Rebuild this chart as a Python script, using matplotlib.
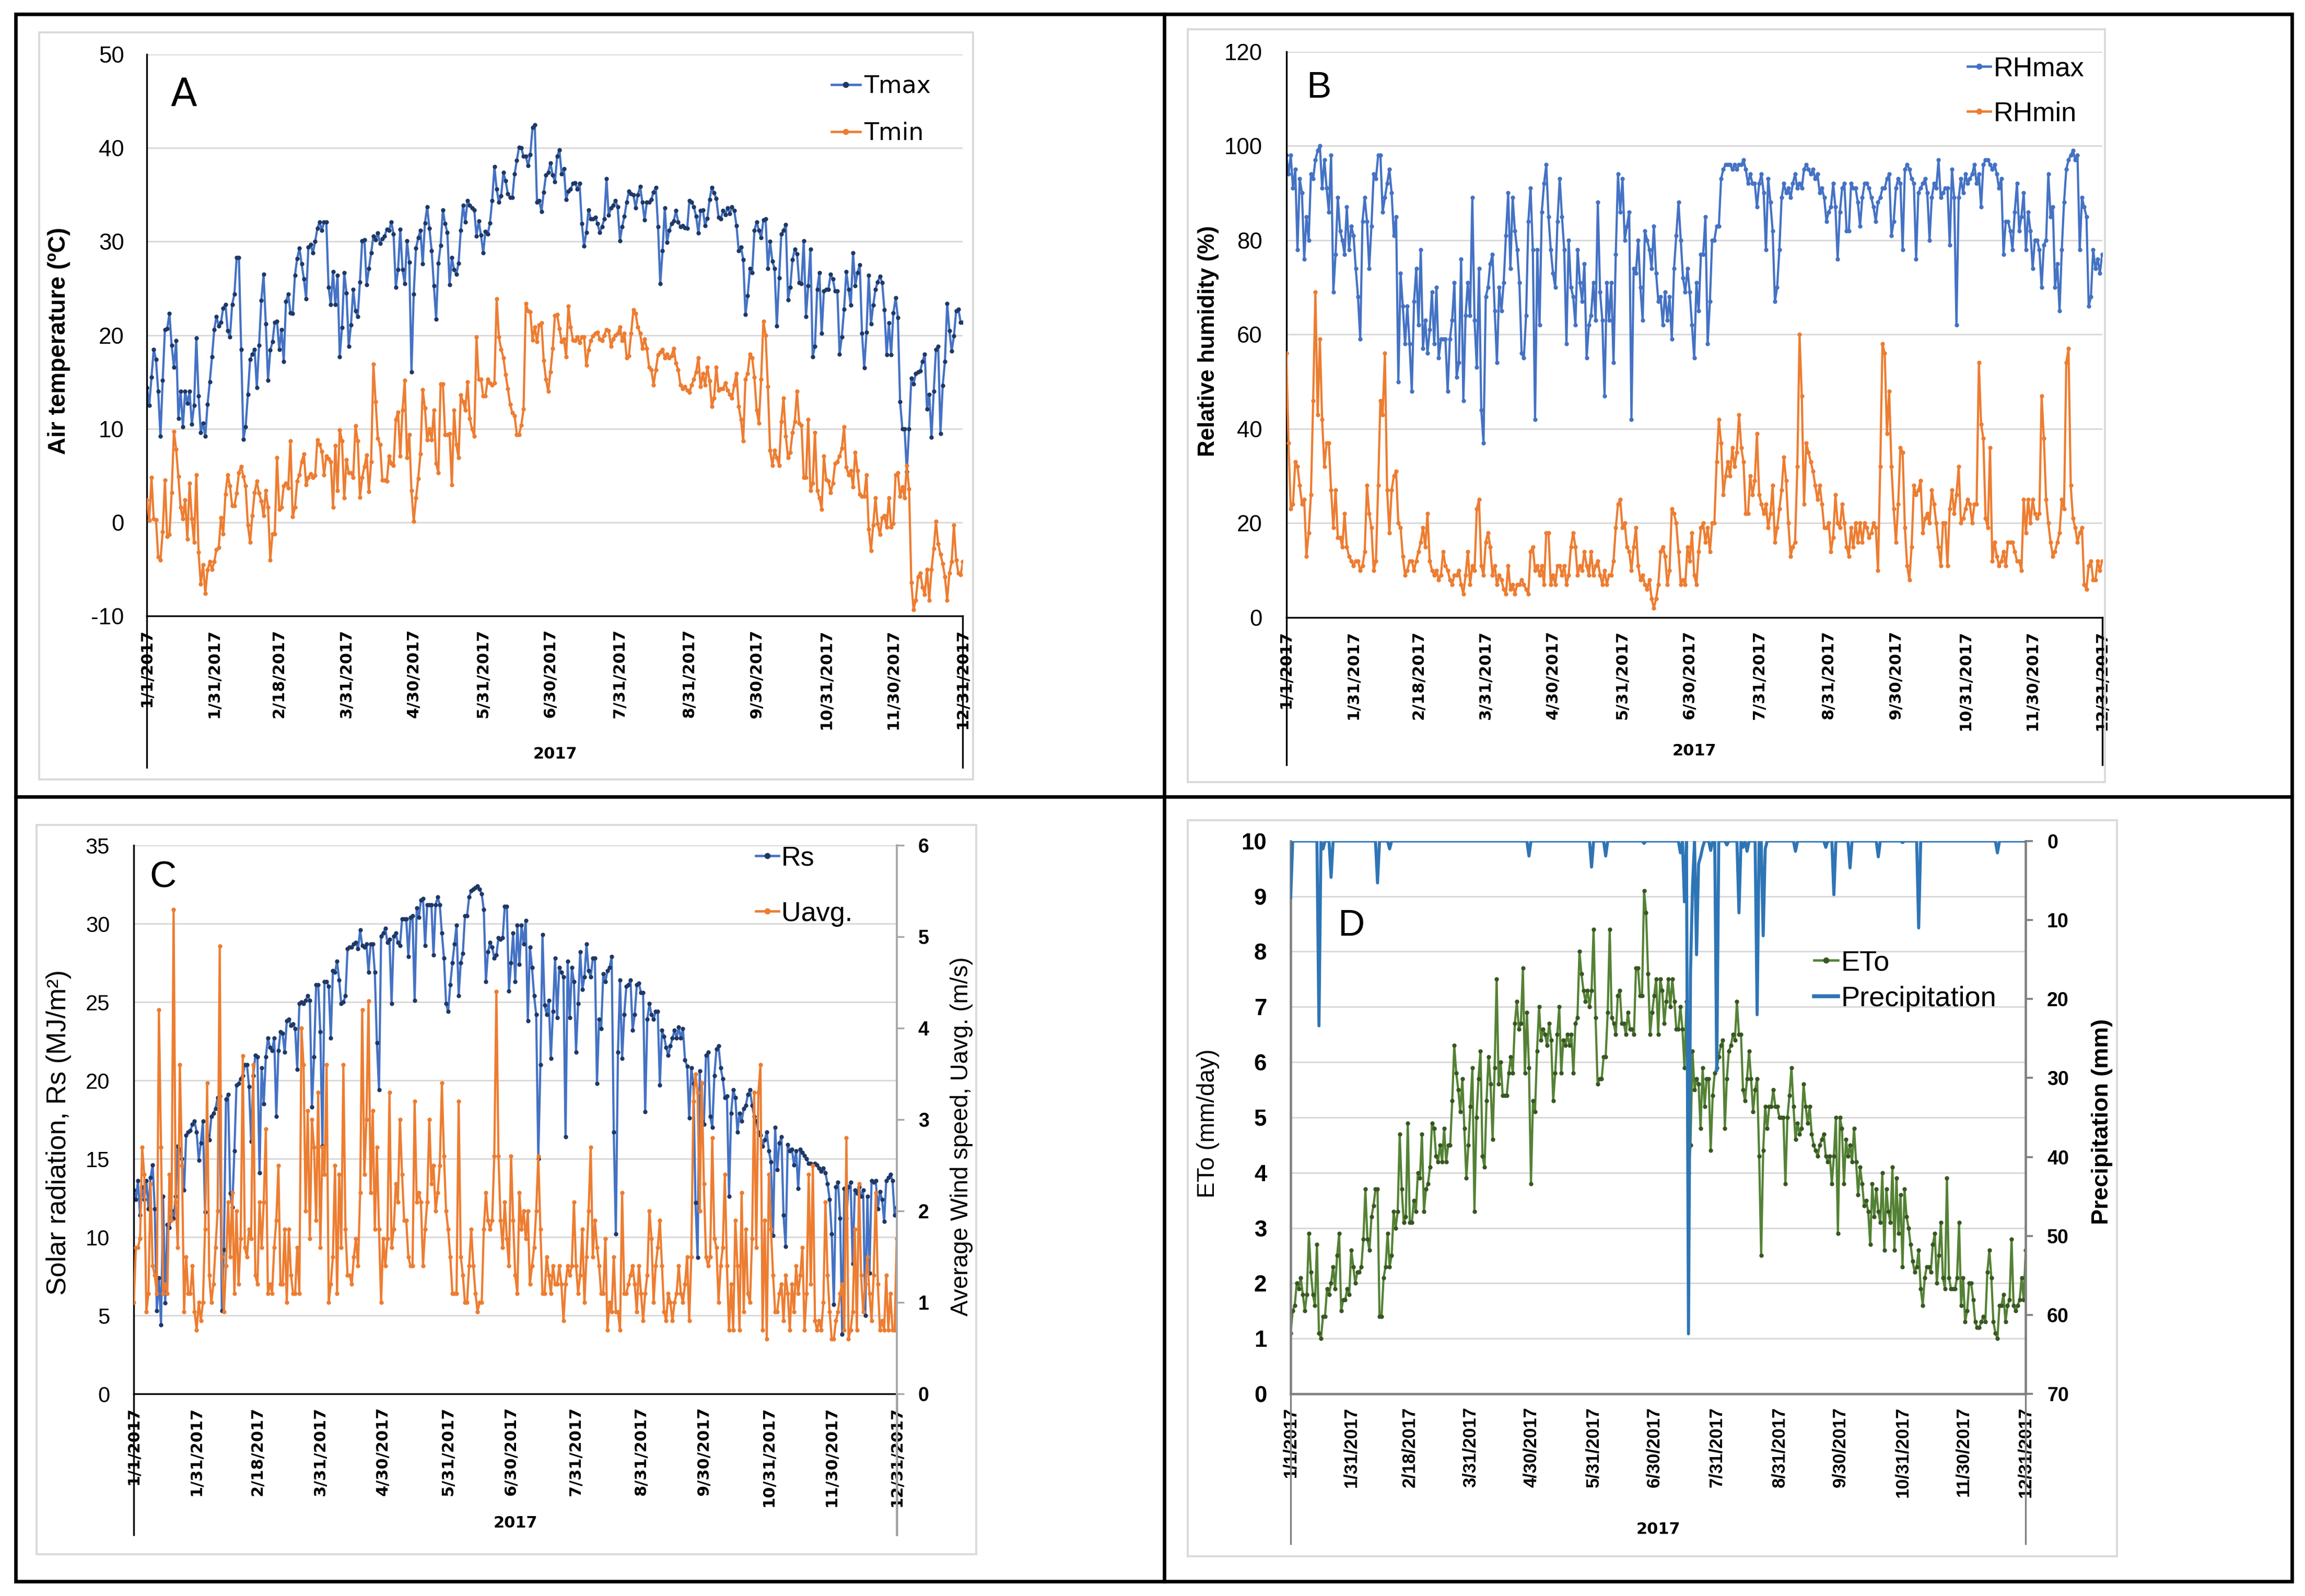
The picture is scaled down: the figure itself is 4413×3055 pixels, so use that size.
import numpy as np
import matplotlib
matplotlib.use("Agg")
import matplotlib.pyplot as plt
from matplotlib.lines import Line2D
from matplotlib.patches import Rectangle

plt.rcParams['font.family'] = ['Liberation Sans', 'DejaVu Sans']
plt.rcParams['axes.unicode_minus'] = False

# ---- daily values for 2017 ----
tmax = [14.4,12.5,15.5,18.5,17.4,14.0,9.2,15.2,20.6,20.7,22.3,18.9,16.6,19.4,11.1,14.0,10.2,14.0,12.7,14.0,
        10.5,12.5,19.7,13.5,9.6,10.6,9.2,12.6,15.0,17.7,20.6,22.0,21.0,21.4,22.9,23.3,20.5,19.8,23.3,24.4,
        28.3,28.3,18.5,8.9,10.2,13.7,17.4,18.0,18.5,14.4,18.9,23.7,26.5,21.2,15.2,18.4,19.3,21.4,21.5,18.5,
        20.6,17.2,23.6,24.4,22.4,22.3,26.4,28.2,29.3,27.6,26.0,23.9,29.4,29.7,28.8,30.0,31.4,32.1,31.2,32.1,
        32.1,25.1,23.3,26.8,23.3,26.4,17.7,20.8,26.7,24.5,18.8,21.1,24.9,22.6,22.0,25.7,30.1,30.2,25.4,27.1,
        28.8,30.6,30.2,30.9,29.8,30.3,30.6,31.3,31.2,32.1,30.8,25.1,27.0,31.3,27.0,25.5,30.1,27.8,16.1,24.4,
        29.3,30.4,31.2,27.6,32.0,33.7,31.4,29.0,25.3,21.7,27.7,29.6,33.4,31.9,31.0,25.4,28.3,27.0,26.5,27.7,
        31.2,33.9,32.1,34.4,33.9,33.6,33.4,30.6,32.2,30.7,28.8,31.1,30.8,32.0,34.4,38.0,35.6,34.2,34.9,37.4,
        36.5,35.1,34.7,34.7,37.2,38.7,40.1,40.0,39.1,39.1,38.1,39.3,42.2,42.5,34.2,34.4,33.2,35.3,37.1,37.4,
        38.4,37.1,36.4,39.1,39.8,37.2,37.8,34.5,35.4,35.6,36.2,
        36.3,35.6,36.2,31.9,29.5,31.0,33.4,32.4,32.4,32.6,31.9,31.0,31.6,32.4,36.7,32.8,33.6,33.9,
        34.4,33.7,30.1,31.6,32.7,34.2,35.4,35.1,35.0,33.6,35.0,35.9,34.2,32.3,34.2,34.2,34.5,35.3,
        35.8,31.6,25.5,29.0,33.6,29.9,31.2,31.9,32.2,33.3,32.1,31.6,31.7,31.5,31.4,34.4,34.2,33.7,
        32.7,30.9,33.3,33.4,31.7,32.5,34.5,35.8,35.2,34.6,32.6,32.4,33.3,32.9,33.6,33.0,33.7,33.3,
        31.7,29.0,29.4,28.1,22.2,24.2,27.1,26.7,31.2,32.1,31.2,30.4,32.3,32.4,27.1,30.0,27.9,27.1,21.0,
        26.1,30.8,31.2,31.8,23.8,25.1,28.1,29.2,28.7,25.6,25.5,30.1,22.0,25.3,29.2,17.7,18.8,24.9,
        26.7,20.2,24.7,24.9,24.9,26.5,26.0,24.7,24.7,18.0,19.8,22.8,26.8,24.9,23.2,28.8,25.3,26.7,
        27.5,20.2,16.5,20.3,26.4,21.2,23.2,24.9,25.7,26.3,25.6,22.7,17.9,21.3,17.9,22.4,24.0,21.9,
        12.9,10.0,10.0,5.4,10.0,15.4,14.8,15.9,16.1,16.2,17.2,18.0,12.1,13.7,9.1,14.0,18.5,18.8,9.5,
        14.6,17.2,23.4,20.5,18.3,19.9,22.6,22.8,21.4,21.4]

tmin = [2.4,0.2,4.8,0.4,0.3,-3.7,-4.0,-1.0,4.5,-1.5,-1.3,3.2,9.7,7.8,4.9,1.6,0.4,2.4,
        -1.8,4.2,0.4,-2.1,5.1,-3.2,-6.6,-4.5,-7.6,-5.1,-4.2,-5.0,-4.2,-2.9,-2.7,0.5,-1.2,3.0,5.1,
        3.9,1.8,1.8,3.1,5.3,6.0,4.9,3.9,-0.3,-2.1,0.7,3.2,4.4,3.1,2.3,0.7,3.4,1.6,-4.0,
        -1.2,-1.2,6.9,1.4,1.6,3.9,4.2,3.7,8.7,0.6,1.6,4.4,5.1,6.5,7.3,4.0,4.8,5.2,4.8,
        5.0,8.8,8.3,7.6,5.1,7.1,6.8,6.5,1.6,8.2,3.4,9.9,8.7,2.6,6.7,5.3,5.3,4.8,10.3,
        8.7,2.7,4.8,6.0,7.2,3.3,6.5,16.9,12.9,9.0,8.3,4.5,4.5,4.4,7.1,6.3,6.1,11.0,11.8,
        7.1,12.0,15.2,6.9,9.4,3.4,0.1,2.6,4.7,7.3,14.2,12.2,8.8,10.0,8.8,12.0,6.3,5.3,
        14.8,14.8,9.4,9.4,9.5,4.0,12.0,8.3,6.9,13.6,12.9,12.0,15.0,11.1,10.0,9.2,19.8,15.3,
        15.3,13.5,13.5,15.3,14.9,14.7,14.9,23.9,19.8,18.5,17.6,15.8,14.3,12.6,11.7,11.4,9.4,9.4,10.4,
        12.1,23.4,22.6,22.5,19.5,20.9,19.3,21.1,21.3,17.3,15.3,14.0,16.1,18.6,22.1,22.2,20.7,19.3,
        19.6,17.7,23.1,20.9,19.5,
        19.4,19.8,19.2,19.8,19.8,16.8,18.4,19.4,19.9,20.2,20.3,19.6,19.4,20.0,
        20.6,20.5,18.8,19.6,20.0,20.2,20.9,19.4,20.2,17.6,17.8,20.2,22.7,22.3,
        20.9,20.2,18.6,19.6,18.6,16.6,16.3,14.7,16.3,17.9,18.2,18.5,17.6,18.0,
        17.6,17.8,18.6,17.0,16.3,14.7,14.3,14.5,14.1,13.9,14.7,15.3,16.1,17.6,
        14.5,15.9,14.7,16.6,15.1,12.4,13.3,16.6,14.1,14.3,14.3,14.9,14.1,13.7,
        13.3,14.7,15.9,12.4,11.0,8.7,15.3,15.9,18.0,17.6,15.5,12.0,10.6,15.3,
        21.5,20.0,14.5,7.7,6.1,7.7,6.9,6.1,10.8,13.3,9.2,6.9,7.5,9.6,
        10.8,14.0,10.6,10.4,4.8,4.8,11.0,3.4,4.2,9.6,3.4,2.6,1.4,7.1,
        4.6,4.4,3.2,4.2,6.3,6.5,7.1,7.9,10.2,5.9,5.1,5.5,3.8,7.5,
        5.5,3.0,2.8,2.8,5.1,-0.7,-3.0,-0.3,2.6,-0.1,-1.3,0.5,0.7,-0.5,
        2.6,-0.5,-0.1,5.1,5.3,2.8,3.8,2.6,6.1,3.6,-6.4,-9.3,-8.3,-5.8,
        -5.4,-6.9,-7.7,-5.0,-8.3,-5.0,-2.8,0.1,-2.3,-3.4,-4.4,-5.8,-8.3,-5.4,
        -4.2,-0.3,-4.0,-5.4,-5.6,-4.2]

rh_max = [98,94,98,91,95,78,93,90,76,85,80,94,93,97,99,100,91,97,91,86,98,69,77,89,82,80,77,87,78,
          83,81,74,68,59,84,89,84,74,83,94,93,98,98,86,89,92,95,90,81,85,50,73,66,58,66,58,48,67,74,
          62,78,57,63,56,61,69,58,70,55,59,59,59,48,59,63,71,51,54,76,46,64,71,64,89,63,53,74,44,37,
          68,70,75,77,65,54,70,65,71,81,90,74,89,82,78,71,56,55,64,84,91,78,42,78,62,86,92,96,85,78,
          73,70,84,93,85,78,58,80,70,68,62,78,71,67,75,55,62,64,71,63,88,69,63,47,71,63,71,54,77,94,
          86,93,80,83,86,42,74,73,80,70,63,82,80,78,74,83,73,67,68,62,69,63,68,59,74,81,88,80,72,69,
          74,69,62,55,71,65,77,77,85,58,67,80,80,83,83,93,95,96,96,96,95,96,95,96,96,97,95,92,94,92,
          92,87,92,94,90,78,93,88,82,67,70,78,89,92,90,91,89,92,94,91,92,91,95,96,95,94,95,93,
          94,90,91,89,84,86,87,92,87,76,86,91,92,82,82,92,91,91,88,83,89,92,92,91,89,87,84,88,89,
          91,91,93,94,81,84,91,93,92,78,95,96,95,93,92,76,90,91,92,93,90,80,89,92,91,97,89,90,
          91,91,79,95,89,62,89,93,90,94,92,93,94,96,92,94,87,96,97,97,96,95,96,94,91,93,77,84,84,
          82,78,86,92,82,85,90,78,86,82,74,80,80,78,70,79,80,94,85,87,70,75,65,78,88,95,97,98,
          99,97,98,78,89,87,85,66,68,78,74,76,73,77]

rh_min = [56,37,23,24,33,32,28,24,25,13,18,26,46,69,43,59,42,32,37,37,27,19,27,17,17,15,22,15,13,
          12,11,12,12,10,11,14,28,22,19,10,12,28,46,43,56,27,18,27,30,31,20,19,13,9,10,12,12,
          10,12,14,16,19,15,22,12,10,9,10,8,9,14,11,10,8,7,9,9,10,7,5,9,14,7,11,10,23,
          25,11,9,16,18,15,9,11,7,9,8,6,5,11,6,7,5,7,7,8,7,6,5,14,15,10,11,9,
          11,7,18,18,7,9,7,11,11,9,11,7,9,15,18,15,9,11,10,14,11,9,14,9,11,12,9,7,10,
          7,9,9,12,19,24,25,19,20,15,14,10,15,19,11,8,9,7,6,8,4,2,4,7,14,15,13,7,
          10,23,22,20,14,7,8,7,15,12,18,9,7,14,19,20,16,19,14,20,20,33,42,37,26,30,33,30,36,
          32,35,43,36,33,22,22,30,26,29,39,26,24,22,24,19,22,28,16,19,23,27,34,29,20,13,15,16,
          32,60,47,24,37,35,33,31,28,25,28,24,19,19,20,14,17,26,20,19,24,20,15,13,19,15,20,16,20,
          16,20,19,17,18,20,19,10,32,58,56,39,48,32,23,16,24,36,35,19,11,8,15,28,26,27,29,18,
          21,22,20,27,24,20,15,11,20,20,11,23,27,22,26,32,20,21,23,25,24,20,24,24,54,41,38,21,19,
          36,12,16,13,11,12,14,11,16,16,16,14,12,12,10,25,18,25,20,25,22,21,22,47,38,25,20,16,13,
          14,16,18,25,23,54,57,28,21,19,16,18,19,7,6,11,12,8,8,12,10,12]

rs = [13.0,12.4,13.6,11.4,13.2,12.4,13.6,11.8,13.8,14.6,11.8,5.3,7.4,4.4,12.6,5.8,10.8,10.6,11.7,11.2,
      12.6,15.8,15.6,15.0,13.0,16.5,16.7,16.8,17.2,17.4,16.7,14.9,16.0,17.4,11.6,16.5,16.2,17.7,17.9,
      18.2,18.9,19.0,5.3,9.2,18.8,19.1,12.8,11.9,15.5,19.7,19.8,20.1,20.3,21.0,21.0,19.6,16.1,20.3,21.6,
      21.5,14.1,20.8,18.5,21.5,22.7,22.1,21.9,22.7,17.7,21.9,23.1,23.0,21.8,23.8,23.9,23.5,23.6,23.3,20.7,
      24.9,25.0,24.9,25.1,25.4,25.1,18.3,21.5,26.1,26.1,23.1,15.8,26.3,26.3,26.0,22.7,27.0,26.9,27.6,26.4,
      24.9,25.0,25.4,28.4,28.5,28.5,28.7,28.8,28.4,29.6,28.6,28.5,28.7,26.9,28.7,28.7,26.9,22.4,19.4,
      29.2,29.4,29.7,28.8,29.0,24.9,29.2,29.4,28.8,28.6,30.3,30.3,30.3,27.9,30.4,30.5,25.1,31.0,30.4,31.5,
      31.6,28.6,31.2,31.2,31.2,28.0,31.2,31.7,31.2,29.4,27.8,24.9,24.4,26.1,27.5,28.7,29.9,25.4,27.5,28.1,
      30.5,30.5,31.7,32.1,32.2,32.3,32.4,32.2,31.9,30.9,26.3,28.2,28.8,28.5,27.8,28.0,29.1,29.0,29.1,
      31.1,31.1,25.7,27.5,29.4,26.3,29.9,27.4,29.9,28.7,30.2,23.8,28.5,27.2,25.4,24.2,15.0,21.0,29.3,24.8,
      24.2,25.1,21.4,24.4,27.8,24.0,27.2,26.9,26.6,16.4,27.6,24.0,27.2,26.3,21.8,24.9,28.2,25.8,26.6,28.7,
      27.0,26.6,27.8,27.8,19.8,23.9,23.3,26.8,26.3,27.0,27.2,27.9,16.7,10.2,21.8,26.4,21.4,24.2,26.0,26.1,
      26.4,23.2,24.2,26.1,26.2,25.6,25.6,18.0,23.9,24.9,24.2,23.9,24.4,24.4,19.7,23.2,22.8,22.1,21.6,22.2,
      22.7,23.2,22.7,23.4,22.7,23.3,21.3,20.9,17.6,20.8,19.8,12.2,8.7,20.6,17.4,17.2,21.6,21.8,17.7,17.0,
      20.3,22.0,22.2,20.8,20.1,18.9,19.0,12.6,17.9,19.4,18.9,16.7,17.9,17.4,18.2,18.4,19.1,19.4,18.4,17.7,
      17.4,16.7,16.5,15.8,16.2,16.7,15.5,14.8,10.1,17.0,14.3,16.0,16.4,11.4,9.4,15.9,15.5,15.6,14.6,15.5,
      13.1,15.6,15.4,15.2,15.0,14.7,14.7,14.6,14.7,14.6,14.4,14.2,14.4,14.1,13.4,12.4,10.2,5.7,13.2,
      13.5,11.2,3.8,13.1,11.2,13.2,13.5,8.3,13.0,12.8,13.2,12.6,13.0,5.0,12.6,7.7,13.6,13.5,13.6,11.8,
      12.9,12.4,11.0,13.6,13.8,14.0,13.6,11.4,11.9]

u_avg = [1.0,1.6,1.6,1.7,2.7,2.4,0.9,1.1,2.3,1.4,1.3,1.1,4.2,2.7,1.1,1.2,1.1,2.4,1.9,5.3,
         2.1,1.6,3.6,2.5,0.9,1.5,1.1,1.1,1.4,0.9,0.7,1.0,0.8,1.0,1.8,3.4,1.3,1.0,1.2,
         1.6,2.0,4.9,1.5,0.9,1.4,2.1,1.5,2.2,1.1,2.0,1.2,1.7,3.7,1.6,1.5,1.8,1.7,3.6,1.3,
         1.2,2.1,1.6,2.1,2.9,1.1,1.2,1.1,1.6,1.9,2.5,1.2,1.2,1.8,1.0,1.8,1.3,1.1,1.1,1.6,
         1.1,4.0,3.6,2.0,3.1,1.7,3.0,2.7,1.9,3.3,1.6,2.7,2.4,3.6,1.0,1.2,1.5,2.5,1.1,2.4,
         1.6,3.6,1.8,1.3,1.3,1.2,1.5,1.7,1.4,2.2,4.2,2.4,3.0,4.3,2.2,3.1,1.8,2.7,1.8,
         1.0,1.7,1.4,1.7,3.3,1.6,1.8,2.3,2.1,3.0,2.4,1.9,1.9,1.5,1.4,1.4,3.2,2.1,2.2,2.1,
         1.4,1.8,2.1,3.0,2.3,2.5,2.0,2.2,2.5,3.4,2.6,2.0,1.8,1.5,1.1,1.1,1.1,3.2,1.5,1.3,
         1.0,1.0,1.4,1.8,1.4,1.1,0.9,1.0,1.0,1.8,2.2,1.9,1.8,1.9,2.6,4.4,2.6,1.9,1.6,
         2.1,1.7,1.4,2.6,1.9,1.3,1.1,2.2,1.8,2.0,1.7,2.0,1.2,1.4,1.6,2.0,2.6,1.8,1.1,1.1,
         1.5,1.3,1.1,1.4,1.2,1.2,1.4,1.2,0.8,1.2,1.4,1.3,1.4,2.1,1.4,1.1,1.3,1.8,1.0,1.5,
         2.0,2.7,1.5,1.9,1.6,1.4,1.1,1.1,1.7,0.7,1.0,0.9,1.5,0.9,0.9,0.7,2.2,1.1,1.1,1.2,
         1.3,1.4,1.2,0.9,1.4,1.1,0.8,1.1,1.3,2.0,1.7,1.0,1.4,1.6,1.9,1.4,0.9,0.8,1.1,1.0,
         0.8,1.0,1.1,1.4,1.1,1.0,1.2,1.5,0.8,1.5,3.2,3.5,3.3,2.0,3.4,2.3,1.5,1.4,1.5,2.8,
         1.7,1.6,1.0,1.4,1.6,2.4,1.4,0.7,1.2,0.7,1.9,1.4,0.7,2.2,0.9,1.8,1.1,1.0,1.7,3.3,
         1.6,3.3,3.6,0.7,1.9,0.6,2.4,1.8,1.3,0.9,0.9,1.1,1.2,0.8,1.3,1.1,0.7,1.2,0.9,1.4,
         1.1,1.3,1.6,0.7,1.1,2.4,1.2,2.5,0.8,0.7,0.8,0.7,1.0,2.1,1.3,0.9,0.6,0.6,0.8,
         0.9,1.1,1.2,0.7,2.8,0.6,0.7,0.9,1.8,0.7,2.3,1.3,0.9,1.2,1.5,1.1,0.8,1.3,2.2,1.2,
         0.7,0.8,0.7,1.3,0.7,1.1,0.7,0.7,1.7]

eto = [1.1,1.5,1.6,2.0,1.9,2.1,1.8,1.5,1.8,2.9,2.2,1.8,1.6,2.7,1.1,1.0,1.4,1.4,1.9,1.8,2.0,
       2.3,1.9,2.5,2.9,1.5,1.7,1.7,1.9,1.8,2.6,2.3,2.0,2.2,2.2,2.3,2.8,3.7,2.8,2.6,3.2,3.4,
       3.7,3.7,1.4,1.4,2.1,2.3,2.9,2.3,2.5,3.3,3.0,3.3,4.7,3.7,3.1,3.2,4.9,3.1,3.1,3.5,3.3,
       4.0,3.9,4.7,3.3,3.7,3.8,4.1,4.9,4.8,4.3,4.2,4.5,4.2,4.8,4.2,4.5,4.5,5.3,6.3,5.8,5.5,
       5.1,5.7,4.8,3.9,4.5,5.2,5.9,3.3,5.0,5.7,6.2,4.3,4.1,5.3,6.1,5.6,4.6,5.9,7.5,5.6,6.0,
       5.4,5.4,5.4,5.8,6.1,5.8,6.7,7.1,6.6,6.7,7.7,5.8,6.9,5.9,3.8,5.3,5.1,6.2,7.0,6.4,6.6,
       6.5,6.3,6.7,6.4,5.3,5.8,6.5,7.0,5.8,6.4,6.3,6.5,6.3,6.5,5.8,6.7,6.8,8.0,7.6,7.3,7.1,
       7.3,7.0,7.3,8.4,6.8,5.6,5.7,5.7,6.1,6.1,6.9,8.4,6.8,6.7,6.5,7.2,7.3,6.7,6.7,6.5,6.9,
       6.6,6.6,6.5,7.7,7.7,7.2,7.2,9.1,8.7,7.6,6.5,6.9,7.2,7.5,6.5,7.5,7.3,6.7,7.1,7.5,7.0,
       7.5,7.1,6.6,6.6,7.0,6.6,5.9,7.1,4.0,4.5,6.2,5.5,5.7,5.6,4.8,5.9,5.2,5.7,5.7,4.4,5.4,
       5.8,5.9,6.1,6.3,6.4,4.8,5.7,6.2,6.3,6.5,6.4,7.1,6.5,6.5,5.5,5.3,5.7,6.2,5.7,5.1,5.5,
       5.7,4.3,2.5,4.4,5.2,4.8,5.2,5.2,5.5,5.2,5.2,5.0,5.0,5.0,3.8,5.0,5.4,5.9,5.2,4.6,4.9,
       4.7,4.8,5.6,5.2,4.9,5.2,4.7,4.5,4.4,4.3,4.5,4.6,4.7,4.3,4.2,4.3,3.8,4.3,5.0,2.9,
       5.0,4.8,3.8,4.6,4.3,4.5,4.2,4.8,4.2,3.6,4.1,3.8,3.4,3.5,3.3,2.7,3.8,3.2,3.7,3.3,
       3.1,4.0,2.6,3.7,3.3,3.1,4.1,2.6,3.9,2.9,3.6,2.3,3.7,3.2,3.0,2.7,2.4,2.2,2.3,2.6,
       1.9,1.6,2.1,2.3,2.3,2.2,2.7,2.9,2.0,2.5,3.1,2.1,1.9,3.9,2.1,1.9,1.9,1.9,2.1,3.1,
       1.6,2.1,1.3,1.5,2.0,2.0,1.7,1.3,1.2,1.2,1.3,1.4,1.3,2.2,2.6,2.1,1.3,1.1,1.0,1.6,
       1.6,1.8,1.3,1.6,1.7,2.8,1.6,1.5,1.6,1.7,2.1,1.7,2.6]

# rain days (day of year, 0 = 1 Jan) and amounts in mm; all other days are dry
rain_day = [0, 14, 16, 20, 43, 49, 118, 149, 156, 175, 193, 195, 197, 198, 199, 201, 202, 203, 204,
            208, 211, 216, 222, 224, 226, 231, 234, 235, 250, 265, 269, 277, 291, 303, 311, 350]
rain_mm = [7.2, 23.4, 1.0, 4.6, 5.3, 1.0, 1.9, 3.3, 1.9, 0.3, 1.5, 7.7, 62.4, 16.7, 5.8, 14.4, 2.9, 2.0, 0.8,
           1.2, 29.1, 0.5, 9.1, 0.8, 1.3, 22.0, 12.0, 1.0, 1.3, 0.8, 6.8, 3.4, 2.0, 0.2, 11.0, 1.5]
precip = np.zeros(365)
precip[rain_day] = rain_mm

tick_days = [0, 30, 59, 89, 119, 150, 180, 211, 242, 272, 303, 333, 364]
tick_labels = ['1/1/2017', '1/31/2017', '2/18/2017', '3/31/2017', '4/30/2017', '5/31/2017', '6/30/2017',
               '7/31/2017', '8/31/2017', '9/30/2017', '10/31/2017', '11/30/2017', '12/31/2017']

BLUE, NAVY, ORANGE = '#4472C4', '#1F3864', '#ED7D31'
GREEN, DGREEN, PBLUE = '#548235', '#385723', '#2E75B6'
GRID = '#D9D9D9'

# layout is worked out in reference screen pixels (1568 x 1085.5)
W, H = 1568.0, 1085.5
def fx(x): return x / W
def fy(y): return 1 - y / H
def box(l, t, r, b): return [fx(l), fy(b), fx(r) - fx(l), fy(t) - fy(b)]

fig = plt.figure(figsize=(4413 / 300, 3055 / 300), dpi=300)

# gray chart-area frames, then the black table grid
for l, t, r, b in [(26.6, 22, 662, 530), (808, 20, 1432, 532), (25, 561, 664, 1057), (808, 558, 1440, 1058.5)]:
    fig.add_artist(Rectangle((fx(l), fy(b)), fx(r) - fx(l), fy(t) - fy(b), transform=fig.transFigure,
                             fill=False, ec=GRID, lw=0.9))
fig.add_artist(Rectangle((fx(10.5), fy(1075.5)), fx(1559) - fx(10.5), fy(9.7) - fy(1075.5),
                         transform=fig.transFigure, fill=False, ec='k', lw=1.6))
fig.add_artist(Line2D([fx(792), fx(792)], [fy(9.7), fy(1075.5)], transform=fig.transFigure, color='k', lw=1.6))
fig.add_artist(Line2D([fx(10.5), fx(1559)], [fy(542), fy(542)], transform=fig.transFigure, color='k', lw=1.6))


def date_axis(ax, ext, year_y, spine_col='k', xfont='DejaVu Sans', xsize=7.3):
    ax.set_xlim(0, 364)
    ax.set_xticks(tick_days)
    ax.set_xticklabels(tick_labels, rotation=90, fontsize=xsize, fontweight='bold', family=xfont)
    ax.tick_params(axis='x', length=0, pad=6)
    for lab in ax.get_xticklabels():
        lab.set_verticalalignment('top')
    for s in ('top', 'right'):
        ax.spines[s].set_visible(False)
    for s in ('left', 'bottom'):
        ax.spines[s].set_color(spine_col)
        ax.spines[s].set_linewidth(0.8)
    for xa in (0, 1):
        ax.plot([xa, xa], [0, -ext], transform=ax.transAxes, color=spine_col, lw=0.8, clip_on=False)
    ax.text(0.5, year_y, '2017', transform=ax.transAxes, ha='center', va='center',
            fontsize=7.3, fontweight='bold', family='DejaVu Sans')
    ax.yaxis.grid(True, color=GRID, lw=0.7)
    ax.set_axisbelow(True)


def series(ax, vals, col, mcol, ms=2.0, lw=1.0, z=2):
    ax.plot(np.arange(len(vals)), vals, color=col, lw=lw, marker='o', ms=ms,
            mfc=mcol, mec=mcol, mew=0, zorder=z)


def handle(col, mcol, marker=True, lw=1.1):
    return Line2D([], [], color=col, lw=lw, marker='o' if marker else None, ms=2.8, mfc=mcol, mec=mcol, mew=0)


# ---------------- A: air temperature ----------------
axA = fig.add_axes(box(100, 37, 655, 419))
series(axA, tmax, BLUE, NAVY)
series(axA, tmin, ORANGE, ORANGE, z=3)
axA.set_ylim(-10, 50)
axA.set_yticks(range(-10, 51, 10))
axA.tick_params(axis='y', length=0, pad=10.5, labelsize=10.5)
date_axis(axA, 0.27, -0.246)
axA.text(0.045, 0.927, 'A', transform=axA.transAxes, fontsize=17.8, family='DejaVu Sans',
         ha='center', va='center')
axA.legend([handle(BLUE, NAVY), handle(ORANGE, ORANGE)], ['Tmax', 'Tmin'], loc='upper left',
           bbox_to_anchor=(0.839, 0.964), frameon=False, borderpad=0, borderaxespad=0,
           handlelength=1.2, handletextpad=0.15, labelspacing=0.98,
           prop={'family': 'DejaVu Sans', 'size': 11})
fig.text(fx(40), fy(232), 'Air temperature (ºC)', rotation=90, ha='center', va='center',
         fontsize=11, fontweight='bold')

# ---------------- B: relative humidity ----------------
axB = fig.add_axes(box(875, 35, 1430, 420))
series(axB, rh_max, BLUE, BLUE)
series(axB, rh_min, ORANGE, ORANGE, z=3)
axB.set_ylim(0, 120)
axB.set_yticks(range(0, 121, 20))
axB.tick_params(axis='y', length=0, pad=11, labelsize=10.5)
date_axis(axB, 0.26, -0.236)
axB.text(0.04, 0.935, 'B', transform=axB.transAxes, fontsize=17, ha='center', va='center')
axB.legend([handle(BLUE, BLUE), handle(ORANGE, ORANGE)], ['RHmax', 'RHmin'], loc='upper left',
           bbox_to_anchor=(0.835, 0.992), frameon=False, borderpad=0, borderaxespad=0,
           handlelength=0.85, handletextpad=0.1, labelspacing=0.72, prop={'size': 12.5})
fig.text(fx(822), fy(232), 'Relative humidity (%)', rotation=90, ha='center', va='center',
         fontsize=10.5, fontweight='bold')

# ---------------- C: solar radiation and wind ----------------
axC = fig.add_axes(box(91, 575, 610, 948))
series(axC, rs, BLUE, NAVY)
axC.set_ylim(0, 35)
axC.set_yticks(range(0, 36, 5))
axC.tick_params(axis='y', length=0, pad=11, labelsize=10)
date_axis(axC, 0.257, -0.236)
axC2 = axC.twinx()
series(axC2, u_avg, ORANGE, ORANGE)
axC2.set_ylim(0, 6)
axC2.set_yticks(range(0, 7))
axC2.tick_params(axis='y', length=3.3, width=0.8, color='#A6A6A6', pad=6.5, labelsize=9)
for lab in axC2.get_yticklabels():
    lab.set_fontweight('bold')
for s in ('top', 'left', 'bottom'):
    axC2.spines[s].set_visible(False)
axC2.spines['right'].set_color('#A6A6A6')
axC2.spines['right'].set_linewidth(0.9)
axC2.plot([1, 1], [0, -0.257], transform=axC2.transAxes, color='#A6A6A6', lw=0.9, clip_on=False)
axC2.text(0.0385, 0.941, 'C', transform=axC2.transAxes, fontsize=17, ha='center', va='center')
axC2.legend([handle(BLUE, NAVY), handle(ORANGE, ORANGE)], ['Rs', 'Uavg.'], loc='upper left',
            bbox_to_anchor=(0.815, 1.0), frameon=False, borderpad=0, borderaxespad=0,
            handlelength=0.85, handletextpad=0.1, labelspacing=1.1, prop={'size': 12.5})
fig.text(fx(40), fy(770), 'Solar radiation, Rs (MJ/m²)', rotation=90, ha='center', va='center',
         fontsize=12.5)
fig.text(fx(654), fy(773), 'Average Wind speed, Uavg. (m/s)', rotation=90, ha='center', va='center',
         fontsize=11)

# ---------------- D: reference ET and precipitation ----------------
axD = fig.add_axes(box(878, 572, 1378, 948))
series(axD, eto, GREEN, DGREEN)
axD.set_ylim(0, 10)
axD.set_yticks(range(0, 11))
axD.tick_params(axis='y', length=0, pad=11, labelsize=10.5)
for lab in axD.get_yticklabels():
    lab.set_fontweight('bold')
date_axis(axD, 0.271, -0.245, spine_col='#808080', xfont='Liberation Sans', xsize=8.3)
axD.spines['left'].set_linewidth(1.1)
axD.spines['bottom'].set_linewidth(1.1)
axD2 = axD.twinx()
axD2.plot(np.arange(len(precip)), precip, color=PBLUE, lw=1.4, zorder=3)
axD2.set_ylim(70, 0)
axD2.set_yticks(range(0, 71, 10))
axD2.tick_params(axis='y', length=3.3, width=0.9, color='#808080', pad=6.5, labelsize=9)
for lab in axD2.get_yticklabels():
    lab.set_fontweight('bold')
for s in ('top', 'left', 'bottom'):
    axD2.spines[s].set_visible(False)
axD2.spines['right'].set_color('#808080')
axD2.spines['right'].set_linewidth(1.1)
axD2.text(0.082, 0.846, 'D', transform=axD2.transAxes, fontsize=17, ha='center', va='center')
axD2.legend([handle(GREEN, DGREEN), handle(PBLUE, PBLUE, marker=False, lw=1.8)], ['ETo', 'Precipitation'],
            loc='upper left', bbox_to_anchor=(0.712, 0.803), frameon=False, borderpad=0, borderaxespad=0,
            handlelength=0.85, handletextpad=0.1, labelspacing=0.34, prop={'size': 13})
fig.text(fx(822), fy(764), 'ETo (mm/day)', rotation=90, ha='center', va='center', fontsize=11)
fig.text(fx(1430), fy(763), 'Precipitation (mm)', rotation=90, ha='center', va='center',
         fontsize=10.8, fontweight='bold')

fig.savefig('out.png', dpi=300)
